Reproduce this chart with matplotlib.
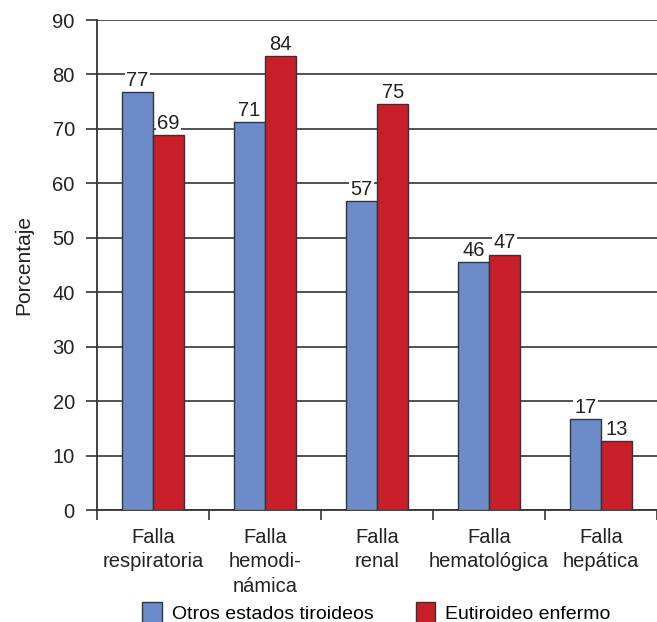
import matplotlib
matplotlib.use("Agg")
import matplotlib.pyplot as plt
import numpy as np
from matplotlib.patches import Patch

categories = ["Falla\nrespiratoria", "Falla\nhemodi-\nnámica", "Falla\nrenal",
              "Falla\nhematológica", "Falla\nhepática"]
otros = [76.8, 71.3, 56.8, 45.6, 16.7]
eutiroideo = [68.8, 83.4, 74.5, 46.9, 12.6]
otros_labels = ["77", "71", "57", "46", "17"]
eutiroideo_labels = ["69", "84", "75", "47", "13"]
series_names = ["Otros estados tiroideos", "Eutiroideo enfermo"]
yticks = [0, 10, 20, 30, 40, 50, 60, 70, 80, 90]

blue = "#6b8cc8"
red = "#c71e28"
edge = "#333333"
txt = "#222222"

plt.rcParams['font.family'] = ['Liberation Sans', 'DejaVu Sans']

fig = plt.figure(figsize=(6.57, 6.22), dpi=100)
ax = fig.add_axes([97/657, 112/622, 1 - 97/657, 490/622])

x = np.arange(len(categories))
w = 0.28
b1 = ax.bar(x - w/2, otros, w, color=blue, edgecolor=edge, linewidth=1.0, zorder=3)
b2 = ax.bar(x + w/2, eutiroideo, w, color=red, edgecolor=edge, linewidth=1.0, zorder=3)

for bars, labs in ((b1, otros_labels), (b2, eutiroideo_labels)):
    for rect, lab in zip(bars, labs):
        ax.text(rect.get_x() + rect.get_width()/2, rect.get_height() + 0.4, lab,
                ha="center", va="bottom", fontsize=14.5, color=txt, zorder=4,
                bbox=dict(facecolor="white", edgecolor="none", pad=0.8))

ax.set_xlim(-0.5, len(categories) - 0.5)
ax.set_ylim(0, 90)
ax.set_yticks(yticks)
ax.set_yticklabels([str(v) for v in yticks], fontsize=14.5, color=txt)
ax.yaxis.grid(True, color="#444444", linewidth=1.3, zorder=0)
ax.set_axisbelow(True)

ax.set_xticks(np.arange(-0.5, len(categories), 1.0))
ax.set_xticklabels([])
ax.set_xticks(x, minor=True)
ax.set_xticklabels(categories, minor=True, fontsize=14.5, color=txt, va="top",
                   linespacing=1.35)
ax.tick_params(axis="x", which="minor", length=0, pad=13)
ax.tick_params(axis="x", which="major", length=7, width=1.2, color="#333333")
ax.tick_params(axis="y", length=8, width=1.2, color="#333333", pad=8)

for s in ["top", "right"]:
    ax.spines[s].set_visible(False)
for s in ["left", "bottom"]:
    ax.spines[s].set_color("#333333")
    ax.spines[s].set_linewidth(1.3)

ax.set_ylabel("Porcentaje", fontsize=15, color=txt, labelpad=14)

handles = [Patch(facecolor=blue, edgecolor=edge, linewidth=1.0),
           Patch(facecolor=red, edgecolor=edge, linewidth=1.0)]
fig.legend(handles, series_names, loc="lower center", bbox_to_anchor=(0.573, -0.03),
           ncol=2, frameon=False, fontsize=14, handlelength=1.0, handleheight=1.25,
           handletextpad=0.5, columnspacing=2.2)

fig.savefig("out.png", dpi=100)
